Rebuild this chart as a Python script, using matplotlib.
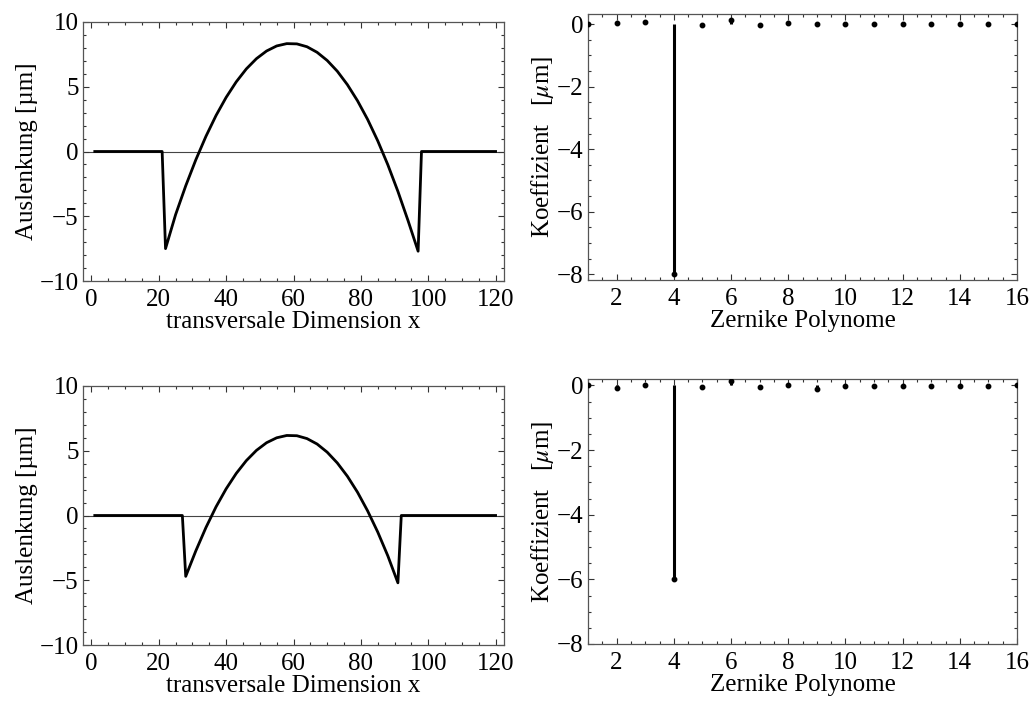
import numpy as np
import matplotlib
matplotlib.use("Agg")
import matplotlib.pyplot as plt
from matplotlib.ticker import MultipleLocator

plt.rcParams["font.family"] = ["Liberation Serif", "DejaVu Serif"]
plt.rcParams["mathtext.fontset"] = "stix"
plt.rcParams["font.size"] = 18

# deflection profiles
x_top = [1, 21, 22, 25, 28, 31, 34, 37, 40, 43, 46, 49, 52, 55, 58, 61, 64,
         67, 70, 73, 76, 79, 82, 85, 88, 91, 94, 97, 98, 120]
y_top = [0, 0, -7.5, -4.87, -2.65, -0.64, 1.17, 2.78, 4.18, 5.38, 6.38, 7.17,
         7.76, 8.15, 8.33, 8.31, 8.09, 7.66, 7.03, 6.20, 5.16, 3.92, 2.48,
         0.83, -1.02, -3.08, -5.33, -7.7, 0, 0]

x_bot = [1, 27, 28, 31, 34, 37, 40, 43, 46, 49, 52, 55, 58, 61, 64, 67, 70,
         73, 76, 79, 82, 85, 88, 91, 92, 120]
y_bot = [0, 0, -4.7, -2.73, -0.93, 0.67, 2.06, 3.25, 4.24, 5.03, 5.62, 6.00,
         6.18, 6.16, 5.94, 5.52, 4.89, 4.06, 3.03, 1.80, 0.36, -1.27, -3.11,
         -5.2, 0, 0]

# Zernike coefficients
zernike_idx = list(range(1, 17))
coef_top = [0, 0.03, 0.06, -8, -0.03, 0.13, -0.03, 0.04, -0.01, -0.01,
            -0.01, -0.01, -0.01, -0.01, -0.01, 0]
coef_bot = [0, -0.07, 0.02, -6, -0.05, 0.15, -0.04, 0.02, -0.1, -0.03,
            -0.01, -0.03, -0.01, -0.01, -0.01, 0]

W, H = 1032, 707
fig = plt.figure(figsize=(W / 100, H / 100), dpi=100)


def frac(l, t, r, b):
    return [l / W, 1 - b / H, (r - l) / W, (b - t) / H]


def style(ax):
    for s in ax.spines.values():
        s.set_color("#555555")
        s.set_linewidth(0.9)
    ax.tick_params(which="both", direction="in", top=True, right=True,
                   color="#333333", width=0.8)
    ax.tick_params(which="major", length=4.5, pad=3)
    ax.tick_params(which="minor", length=2.5)
    ax.tick_params(axis="x", which="major", pad=6)


def deflection(ax, x, y):
    ax.axhline(0, color="#444444", lw=0.8, zorder=1)
    ax.plot(x, y, color="black", lw=2.0, zorder=2)
    ax.set_xlim(-2.5, 122.5)
    ax.set_ylim(-10, 10)
    ax.xaxis.set_major_locator(MultipleLocator(20))
    ax.xaxis.set_minor_locator(MultipleLocator(5))
    ax.yaxis.set_major_locator(MultipleLocator(5))
    ax.yaxis.set_minor_locator(MultipleLocator(1))
    ax.set_xlabel("transversale Dimension x", labelpad=0)
    ax.set_ylabel("Auslenkung [µm]", labelpad=1)
    style(ax)


def coefficients(ax, idx, c, ylim):
    ax.vlines(idx, 0, c, color="black", lw=2.2, zorder=2)
    ax.plot(idx, c, "o", color="black", ms=3.2, zorder=3)
    ax.set_xlim(1, 16)
    ax.set_ylim(*ylim)
    ax.xaxis.set_major_locator(MultipleLocator(2))
    ax.xaxis.set_minor_locator(MultipleLocator(0.5))
    ax.yaxis.set_major_locator(MultipleLocator(2))
    ax.yaxis.set_minor_locator(MultipleLocator(0.5))
    ax.set_xticks([2, 4, 6, 8, 10, 12, 14, 16])
    ax.set_xlabel("Zernike Polynome", labelpad=0)
    ax.set_ylabel(r"Koeffizient   [$\mu$m]", labelpad=1)
    style(ax)


ax1 = fig.add_axes(frac(83, 22, 504, 281))
deflection(ax1, x_top, y_top)

ax2 = fig.add_axes(frac(588, 14, 1017, 280))
coefficients(ax2, zernike_idx, coef_top, (-8.18, 0.32))

ax3 = fig.add_axes(frac(83, 386, 504, 645))
deflection(ax3, x_bot, y_bot)

ax4 = fig.add_axes(frac(588, 379, 1017, 644))
coefficients(ax4, zernike_idx, coef_bot, (-8, 0.2))

fig.savefig("out.png", dpi=100)
